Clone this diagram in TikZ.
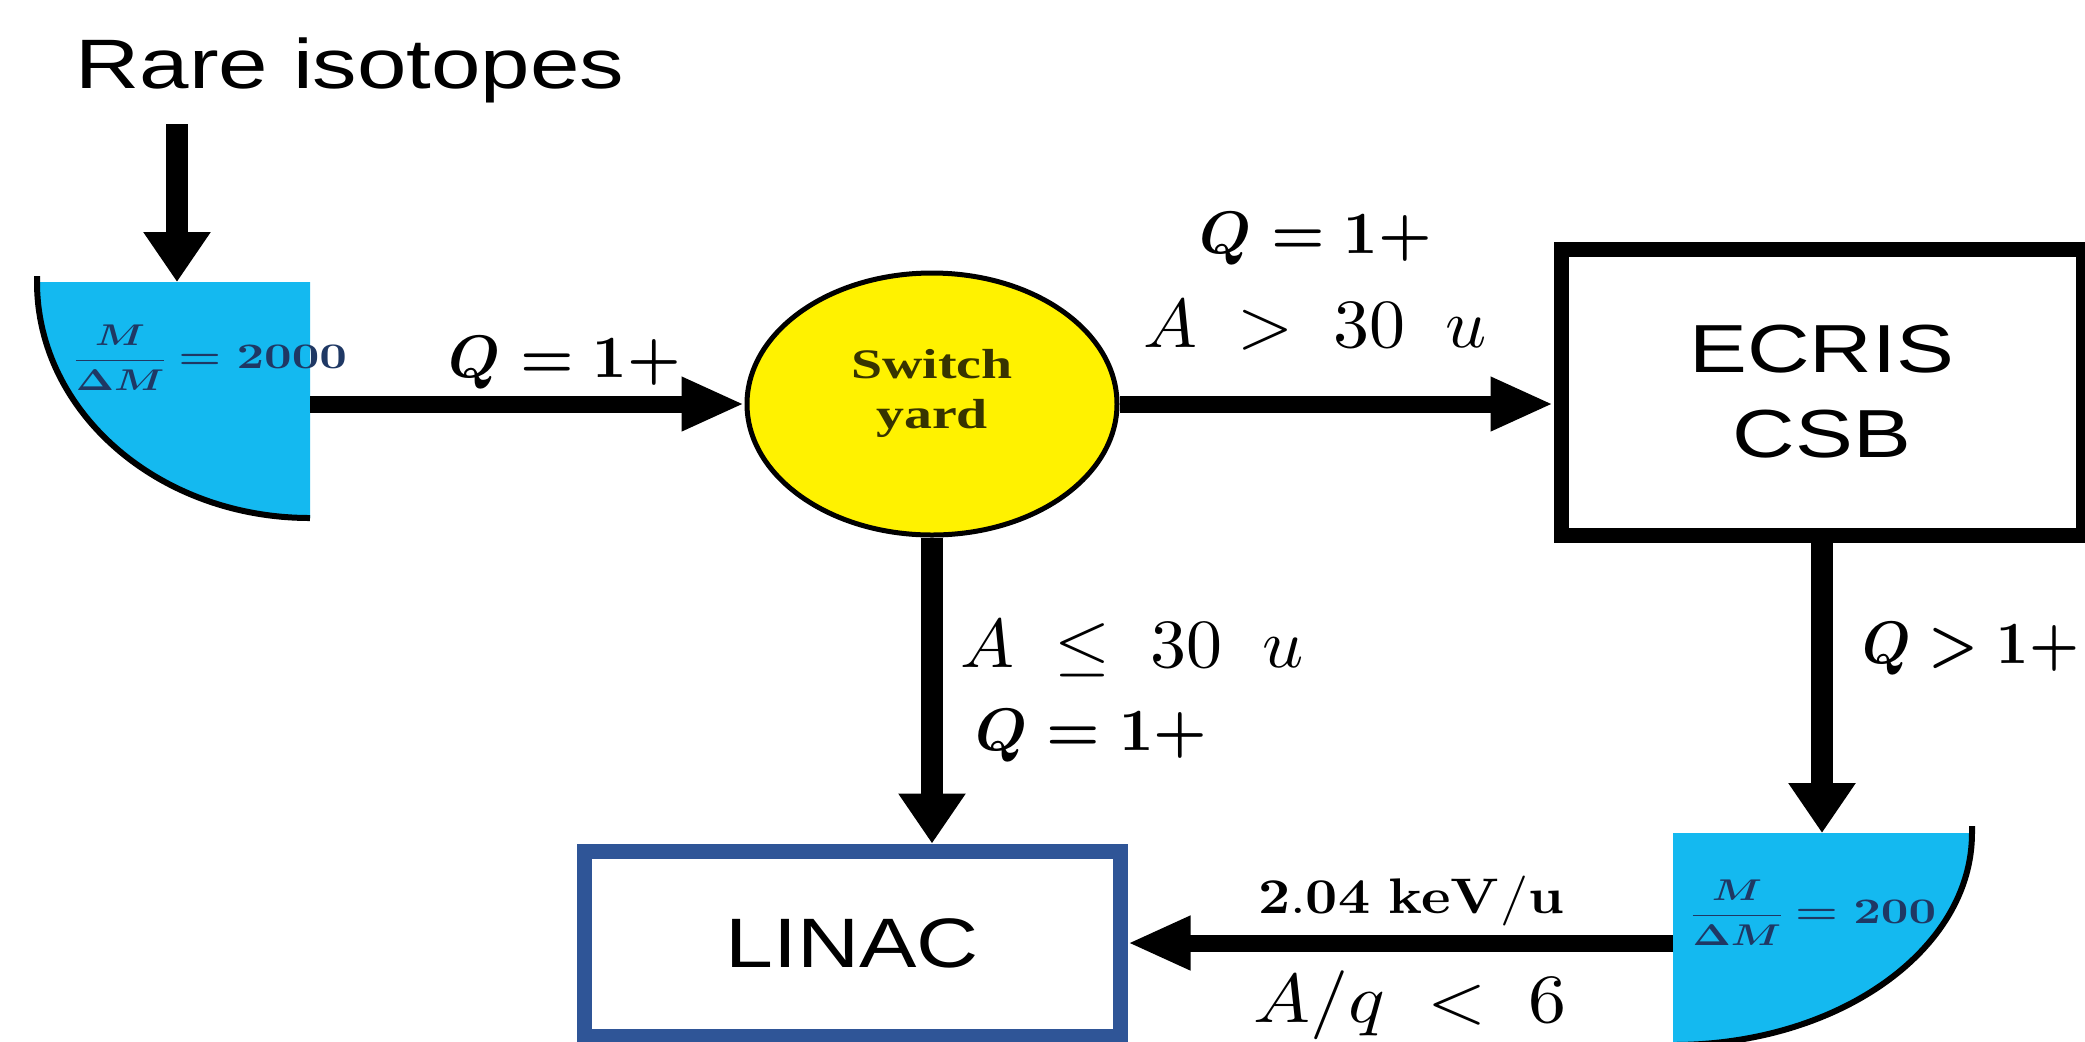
\documentclass[tikz,border=0pt]{standalone}
\usepackage[no-math]{fontspec}
\usepackage{amsmath}
\usepackage{graphicx}
\newfontfamily\arialf{Liberation Sans}
\newfontfamily\timesf{Liberation Serif}
\usetikzlibrary{shapes.geometric,arrows.meta}
\definecolor{magblue}{RGB}{20,185,240}
\definecolor{magtext}{RGB}{31,56,100}
\definecolor{linacblue}{RGB}{47,85,151}
\definecolor{sytextc}{RGB}{55,52,0}
\newcommand\hsq[2]{\scalebox{#1}[1]{#2}}
\newcommand\sbx[3]{\scalebox{#1}[#2]{#3}}
\newcommand\magfrac[1]{\sbx{2.0}{1.5}{\boldmath$\dfrac{M}{\Delta M}$}\sbx{2.4}{1.8}{\boldmath$\,=#1$}}
\begin{document}
\begin{tikzpicture}[x=0.5pt,y=-0.5pt,
  harr/.style={line width=8.5pt,-{Triangle[length=31.5pt,width=25pt]}},
  varr/.style={line width=11pt,-{Triangle[length=25pt,width=32pt]}},
  magnode/.style={inner sep=0pt,outer sep=0pt},
  lbl/.style={inner sep=0pt},
  magtxt/.style={inner sep=0pt,text=magtext},
  boxtxt/.style={inner sep=0pt,align=center}]
\useasboundingbox (0,0) rectangle (2085,1041);
\fill[white] (0,0) rectangle (2085,1041);

% magnets (drawn shapes)
\fill[magblue] (310,282) -- (37,282) arc[start angle=180,end angle=90,x radius=273,y radius=236] -- cycle;
\draw[line width=3pt] (37,276) -- (37,282) arc[start angle=180,end angle=90,x radius=273,y radius=236];
\fill[magblue] (1673,833) -- (1972,833) arc[start angle=0,end angle=90,x radius=299,y radius=212] -- cycle;
\draw[line width=3pt] (1972,826) -- (1972,833) arc[start angle=0,end angle=90,x radius=299,y radius=212];

\node[magnode,minimum width=136.5pt,minimum height=118pt] (mag1) at (173.5,400) {};
\node[magnode,minimum width=149.5pt,minimum height=110pt] (mag2) at (1822.5,943) {};

\node[magtxt] (m1t) at (209,358) {\magfrac{2000}};
\node[magtxt] (m2t) at (1812,913) {\magfrac{200}};

% switch yard
\node[ellipse,draw,line width=2.5pt,fill=yellow,minimum width=185pt,minimum height=131pt] (sy) at (932,404) {};
\node[inner sep=0pt,align=center,text=sytextc,font=\timesf\bfseries\fontsize{21}{25}\selectfont] (syt) at (932,393) {\hsq{1.33}{Switch}\\\hsq{1.33}{yard}};

% boxes
\node[draw,line width=7.5pt,minimum width=261pt,minimum height=143pt,boxtxt,font=\arialf\fontsize{34}{42.5}\selectfont] (ecris) at (1822,392) {\hsq{1.275}{ECRIS}\\\hsq{1.275}{CSB}};
\node[draw=linacblue,line width=7.5pt,minimum width=268pt,minimum height=92.5pt,boxtxt,font=\arialf\fontsize{35}{42}\selectfont] (linac) at (852,943.5) {\hsq{1.23}{LINAC}};

% rare isotopes
\node[anchor=base,inner sep=0pt,font=\arialf\fontsize{35}{42}\selectfont] (rare) at (350,88) {\hsq{1.27}{Rare isotopes}};
\coordinate (riA) at (177,124);

% connectors
\draw[varr] (riA) -- (riA |- mag1.north);
\draw[harr] (mag1.east |- sy.west) -- (sy.west);
\draw[harr] (sy.east) -- (sy.east -| ecris.west);
\draw[varr] (sy.south) -- (sy.south |- linac.north);
\draw[varr] (ecris.south) -- (ecris.south |- mag2.north);
\draw[harr] (mag2.west) -- (mag2.west -| linac.east);

% labels
\node[lbl,anchor=base] (l1) at (565,377) {\sbx{3}{3}{\boldmath$Q = 1+$}};
\node[lbl,anchor=base] (l2) at (1316,253) {\sbx{3}{3}{\boldmath$Q = 1+$}};
\node[lbl,anchor=base] (l3) at (1315,347) {\sbx{3.6}{3.45}{$A \;>\; 30\;\;u$}};
\node[lbl,anchor=base west] (l4) at (960,667) {\sbx{3.6}{3.45}{$A \;\leq\; 30\;\;u$}};
\node[lbl,anchor=base west] (l5) at (975,750) {\sbx{3}{3}{\boldmath$Q = 1+$}};
\node[lbl,anchor=base west] (l6) at (1862,663) {\sbx{2.8}{3}{\boldmath$Q > 1+$}};
\node[lbl,anchor=base] (l7) at (1411,913) {\sbx{2.8}{2.5}{$\mathbf{2.04\ keV/u}$}};
\node[lbl,anchor=base] (l8) at (1410,1022) {\sbx{3.8}{3.45}{$A/q \;<\; 6$}};
\end{tikzpicture}
\end{document}
